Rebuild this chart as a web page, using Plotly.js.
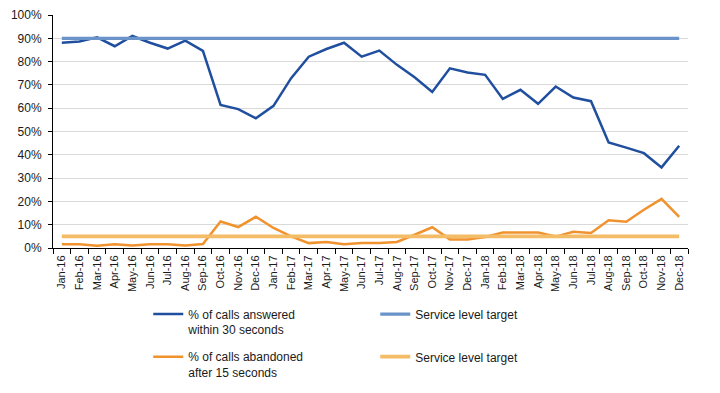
<!DOCTYPE html>
<html>
<head>
<meta charset="utf-8">
<script src="https://cdn.plot.ly/plotly-3.0.1.min.js"></script>
<style>html,body{margin:0;padding:0;background:#fff;}#chart{width:720px;height:393px;}</style>
</head>
<body>
<div id="chart"></div>
<script>
const months = ["Jan-16","Feb-16","Mar-16","Apr-16","May-16","Jun-16","Jul-16","Aug-16","Sep-16","Oct-16","Nov-16","Dec-16",
  "Jan-17","Feb-17","Mar-17","Apr-17","May-17","Jun-17","Jul-17","Aug-17","Sep-17","Oct-17","Nov-17","Dec-17",
  "Jan-18","Feb-18","Mar-18","Apr-18","May-18","Jun-18","Jul-18","Aug-18","Sep-18","Oct-18","Nov-18","Dec-18"];

const answered = [88.1,88.6,90.4,86.6,91.0,88.1,85.6,89.0,84.6,61.4,59.6,55.7,
  61.0,72.9,82.1,85.4,88.1,82.1,84.7,78.6,73.3,67.0,77.1,75.3,
  74.3,64.0,67.9,61.9,69.3,64.6,63.0,45.3,43.1,40.7,34.6,43.9];

const answeredTarget = [90,90,90,90,90,90,90,90,90,90,90,90,
  90,90,90,90,90,90,90,90,90,90,90,90,
  90,90,90,90,90,90,90,90,90,90,90,90];

const abandoned = [1.6,1.6,1.0,1.6,1.1,1.6,1.6,1.1,1.7,11.4,9.0,13.4,
  8.6,5.0,2.1,2.6,1.6,2.1,2.1,2.6,5.7,8.9,3.7,3.7,
  4.7,6.6,6.6,6.6,4.9,7.0,6.4,11.9,11.3,16.4,21.1,13.4];

const abandonedTarget = [5,5,5,5,5,5,5,5,5,5,5,5,
  5,5,5,5,5,5,5,5,5,5,5,5,
  5,5,5,5,5,5,5,5,5,5,5,5];

const yTicks = [0,10,20,30,40,50,60,70,80,90,100];
const yTickLabels = ["0%","10%","20%","30%","40%","50%","60%","70%","80%","90%","100%"];

const FONT = "Liberation Sans, Arial, sans-serif";

const traces = [
  {x: months, y: answered, name: "% of calls answered<br>within 30 seconds", type: "scatter", mode: "lines",
   line: {color: "#1F4F9E", width: 2.5}, legend: "legend"},
  {x: months, y: answeredTarget, name: "Service level target", type: "scatter", mode: "lines",
   line: {color: "#6A93C9", width: 3.2}, legend: "legend"},
  {x: months, y: abandoned, name: "% of calls abandoned<br>after 15 seconds", type: "scatter", mode: "lines",
   line: {color: "#F0922E", width: 2.5}, legend: "legend2"},
  {x: months, y: abandonedTarget, name: "Service level target", type: "scatter", mode: "lines",
   line: {color: "#F4BC67", width: 3.6}, legend: "legend2"}
];

const legendCommon = {orientation: "h", xanchor: "left", yanchor: "top",
  entrywidth: 182, entrywidthmode: "pixels", valign: "top", bgcolor: "rgba(0,0,0,0)",
  font: {family: FONT, size: 12, color: "#1a1a1a"}, traceorder: "normal"};

const layout = {
  width: 720, height: 393,
  margin: {l: 53, r: 32, t: 15, b: 145, autoexpand: false},
  paper_bgcolor: "#fff", plot_bgcolor: "#fff",
  font: {family: FONT, size: 12, color: "#1a1a1a"},
  showlegend: true,
  legend: Object.assign({}, legendCommon, {x: 0.150, y: -0.222}),
  legend2: Object.assign({}, legendCommon, {x: 0.150, y: -0.405}),
  xaxis: {type: "category", tickangle: -90, tickfont: {family: FONT, size: 11, color: "#1a1a1a"},
    showline: true, linecolor: "#000", linewidth: 1, ticks: "outside", ticklen: 5, tickcolor: "#000",
    ticklabelstandoff: 2,
    tickson: "boundaries", showgrid: false, automargin: false, range: [-0.5, 35.5], fixedrange: true},
  yaxis: {range: [0, 100], tickmode: "array", tickvals: yTicks, ticktext: yTickLabels,
    tickfont: {family: FONT, size: 12, color: "#1a1a1a"}, ticklabelstandoff: 4,
    showline: true, linecolor: "#000", linewidth: 1, ticks: "outside", ticklen: 4, tickcolor: "#000",
    showgrid: true, gridcolor: "#d9d9d9", gridwidth: 1, zeroline: false, automargin: false, fixedrange: true}
};

Plotly.newPlot("chart", traces, layout, {staticPlot: true, displayModeBar: false});
</script>
</body>
</html>
